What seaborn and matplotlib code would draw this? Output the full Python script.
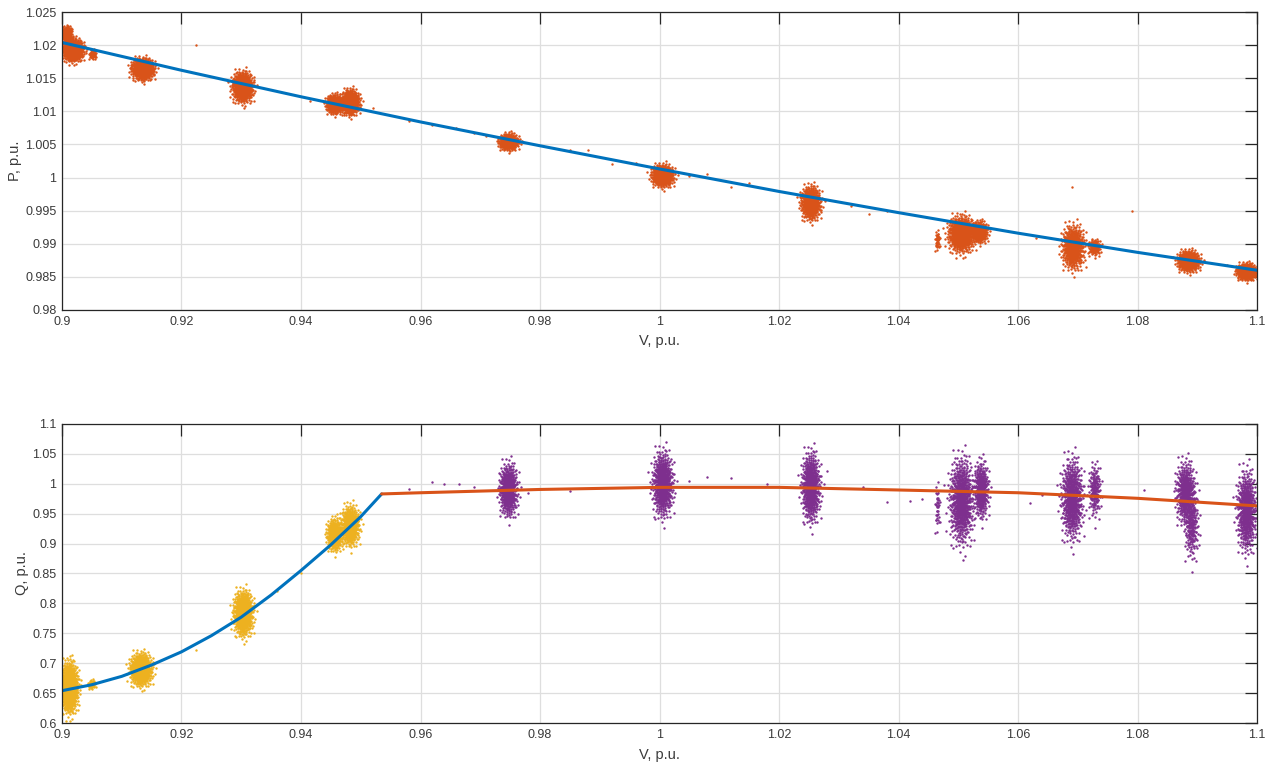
import numpy as np
import pandas as pd
import matplotlib
matplotlib.use("Agg")
import matplotlib.pyplot as plt
import seaborn as sns

# ---------------- data ----------------
x_ticks = [0.90, 0.92, 0.94, 0.96, 0.98, 1.00, 1.02, 1.04, 1.06, 1.08, 1.10]
x_tick_labels = ["0.9", "0.92", "0.94", "0.96", "0.98", "1", "1.02", "1.04", "1.06", "1.08", "1.1"]
p_ticks = [0.980, 0.985, 0.990, 0.995, 1.000, 1.005, 1.010, 1.015, 1.020, 1.025]
p_tick_labels = ["0.98", "0.985", "0.99", "0.995", "1", "1.005", "1.01", "1.015", "1.02", "1.025"]
q_ticks = [0.60, 0.65, 0.70, 0.75, 0.80, 0.85, 0.90, 0.95, 1.00, 1.05, 1.10]
q_tick_labels = ["0.6", "0.65", "0.7", "0.75", "0.8", "0.85", "0.9", "0.95", "1", "1.05", "1.1"]

# P(V) model curve
p_line_v = [0.90, 0.92, 0.94, 0.96, 0.98, 1.00, 1.02, 1.04, 1.06, 1.08, 1.10]
p_line_p = [1.0204, 1.0162, 1.0122, 1.0084, 1.0048, 1.0013, 0.9979, 0.9947, 0.9916, 0.9887, 0.9860]

# Q(V) model curves (low-voltage branch and high-voltage branch)
q_low_v = [0.900, 0.905, 0.910, 0.915, 0.920, 0.925, 0.930, 0.935, 0.940, 0.945, 0.950, 0.9535]
q_low_q = [0.654, 0.664, 0.678, 0.697, 0.719, 0.746, 0.777, 0.814, 0.855, 0.898, 0.945, 0.983]
q_high_v = [0.9535, 0.96, 0.98, 1.00, 1.02, 1.04, 1.06, 1.08, 1.10]
q_high_q = [0.983, 0.985, 0.9905, 0.994, 0.994, 0.9896, 0.985, 0.9757, 0.963]

# Measured P clusters: centre V, centre P, half-extent V, half-extent P, point count
p_cl_v = [0.9018, 0.9008, 0.9051, 0.9135, 0.9302, 0.9456, 0.9482, 0.9747, 1.0005,
          1.0253, 1.0505, 1.0535, 1.0465, 1.0692, 1.0728, 1.0885, 1.0982]
p_cl_p = [1.0193, 1.0217, 1.0186, 1.0164, 1.0137, 1.0111, 1.0114, 1.0054, 1.0003,
          0.9962, 0.9915, 0.9918, 0.9905, 0.9895, 0.9895, 0.9874, 0.9858]
p_cl_dv = [0.0017, 0.0008, 0.0006, 0.0018, 0.0017, 0.0014, 0.0015, 0.0016, 0.0018,
           0.0016, 0.0022, 0.0013, 0.0004, 0.0019, 0.0010, 0.0018, 0.0016]
p_cl_dp = [0.0016, 0.0011, 0.0007, 0.0016, 0.0022, 0.0014, 0.0018, 0.0012, 0.0016,
           0.0024, 0.0026, 0.0015, 0.0015, 0.0032, 0.0012, 0.0015, 0.0012]
p_cl_n = [800, 280, 60, 700, 750, 450, 650, 450, 600, 650, 800, 400, 40, 600, 130, 600, 550]

# Measured Q clusters below the knee (yellow)
ql_cl_v = [0.9012, 0.9050, 0.9132, 0.9303, 0.9456, 0.9482]
ql_cl_q = [0.660, 0.665, 0.690, 0.784, 0.915, 0.930]
ql_cl_dv = [0.0014, 0.0006, 0.0018, 0.0016, 0.0013, 0.0015]
ql_cl_dq = [0.040, 0.008, 0.026, 0.036, 0.026, 0.032]
ql_cl_n = [1000, 50, 750, 750, 450, 550]

# Measured Q clusters above the knee (purple)
qh_cl_v = [0.9747, 1.0005, 1.0253, 1.0505, 1.0538, 1.0465, 1.0690, 1.0728,
           1.0880, 1.0890, 1.0982]
qh_cl_q = [0.990, 1.000, 0.995, 0.972, 0.990, 0.960, 0.975, 0.990,
           0.985, 0.930, 0.955]
qh_cl_dv = [0.0015, 0.0017, 0.0015, 0.0020, 0.0012, 0.0004, 0.0018, 0.0010,
            0.0016, 0.0012, 0.0016]
qh_cl_dq = [0.042, 0.052, 0.055, 0.070, 0.045, 0.040, 0.065, 0.045,
            0.050, 0.055, 0.065]
qh_cl_n = [550, 650, 650, 750, 380, 40, 650, 160, 480, 200, 600]

# isolated measurements between the clusters
p_stray_v = [0.9225, 0.9415, 0.9520, 0.9580, 0.9620, 0.9660, 0.9690, 0.9710, 0.9850, 0.9880,
             0.9960, 1.0050, 1.0080, 1.0120, 1.0150, 1.0320, 1.0350, 1.0380, 1.0630,
             1.0690, 1.0790, 1.0950, 0.9920]
p_stray_p = [1.0200, 1.0115, 1.0105, 1.0085, 1.0080, 1.0075, 1.0068, 1.0062, 1.0042, 1.0041,
             1.0022, 1.0002, 1.0006, 0.9985, 0.9992, 0.9957, 0.9945, 0.9950, 0.9908,
             0.9985, 0.9950, 0.9868, 1.0020]
ql_stray_v = [0.9225, 0.9360, 0.9400]
ql_stray_q = [0.722, 0.820, 0.850]
qh_stray_v = [0.9580, 0.9620, 0.9640, 0.9665, 0.9690, 0.9780, 0.9850, 1.0050, 1.0080,
              1.0120, 1.0180, 1.0280, 1.0340, 1.0380, 1.0420, 1.0620, 1.0640, 1.0810, 1.0440]
qh_stray_q = [0.992, 1.003, 1.000, 1.000, 0.995, 0.985, 0.988, 1.005, 1.012,
              1.010, 1.000, 1.022, 0.995, 0.970, 0.972, 0.968, 0.982, 0.990, 0.975]

# ---------------- styling ----------------
BLUE = "#0072BD"
ORANGE = "#D95319"
YELLOW = "#EDB120"
PURPLE = "#7E2F8E"
AXC = "#262626"
TXT = "#3a3a3a"

sns.set_style("white")
plt.rcParams["font.family"] = ["Liberation Sans", "DejaVu Sans"]


def cluster_points(cv, cy, dv, dy, n):
    """Spread a cluster's n points over its read extent (deterministic R2 texture)."""
    xs, ys = [], []
    for v, y, a, b, k in zip(cv, cy, dv, dy, n):
        i = np.arange(1, k + 1)
        u = (0.5 + i * 0.7548776662466927) % 1.0
        w = (0.5 + i * 0.5698402909980532) % 1.0
        r = np.minimum(np.sqrt(-2.0 * np.log(np.clip(u, 1e-6, 1.0))), 3.2)
        t = 2.0 * np.pi * w
        xs.append(v + a / 2.2 * r * np.cos(t))
        ys.append(y + b / 2.2 * r * np.sin(t))
    return np.concatenate(xs), np.concatenate(ys)


def style_axes(ax, yticks, ylabels, ylim, ylabel):
    ax.set_xlim(0.9, 1.1)
    ax.set_ylim(*ylim)
    ax.set_xticks(x_ticks)
    ax.set_xticklabels(x_tick_labels)
    ax.set_yticks(yticks)
    ax.set_yticklabels(ylabels)
    ax.grid(True, color="#dedede", linewidth=0.9)
    ax.set_axisbelow(True)
    ax.tick_params(direction="in", length=8.5, width=0.9, top=True, right=True,
                   colors=AXC, labelcolor=TXT, labelsize=9, pad=4)
    for s in ax.spines.values():
        s.set_color(AXC)
        s.set_linewidth(0.9)
        s.set_zorder(5)
    ax.set_xlabel("V, p.u.", fontsize=10.5, color=TXT, labelpad=5)
    ax.set_ylabel(ylabel, fontsize=10.5, color=TXT, labelpad=2)


fig = plt.figure(figsize=(12.78, 7.65), dpi=100)
ax1 = fig.add_axes([0.0485, 0.5948, 0.9351, 0.3895])
ax2 = fig.add_axes([0.0485, 0.0549, 0.9351, 0.3909])

# ---- top: P ----
pv, pp = cluster_points(p_cl_v, p_cl_p, p_cl_dv, p_cl_dp, p_cl_n)
pv = np.concatenate([pv, p_stray_v])
pp = np.concatenate([pp, p_stray_p])
sns.scatterplot(x=pv, y=pp, color=ORANGE, s=3.0, linewidth=0, marker="o", ax=ax1, zorder=2)
sns.lineplot(x=p_line_v, y=p_line_p, color=BLUE, linewidth=2.2, ax=ax1, zorder=3,
             sort=False, estimator=None)
style_axes(ax1, p_ticks, p_tick_labels, (0.98, 1.025), "P, p.u.")

# ---- bottom: Q ----
lv, lq = cluster_points(ql_cl_v, ql_cl_q, ql_cl_dv, ql_cl_dq, ql_cl_n)
lv = np.concatenate([lv, ql_stray_v])
lq = np.concatenate([lq, ql_stray_q])
hv, hq = cluster_points(qh_cl_v, qh_cl_q, qh_cl_dv, qh_cl_dq, qh_cl_n)
hv = np.concatenate([hv, qh_stray_v])
hq = np.concatenate([hq, qh_stray_q])
sns.scatterplot(x=lv, y=lq, color=YELLOW, s=3.0, linewidth=0, marker="o", ax=ax2, zorder=2)
sns.scatterplot(x=hv, y=hq, color=PURPLE, s=3.0, linewidth=0, marker="o", ax=ax2, zorder=2)
sns.lineplot(x=q_low_v, y=q_low_q, color=BLUE, linewidth=2.2, ax=ax2, zorder=3,
             sort=False, estimator=None)
sns.lineplot(x=q_high_v, y=q_high_q, color=ORANGE, linewidth=2.2, ax=ax2, zorder=3,
             sort=False, estimator=None)
style_axes(ax2, q_ticks, q_tick_labels, (0.6, 1.1), "Q, p.u.")

fig.savefig("out.png", dpi=100, facecolor="white")
